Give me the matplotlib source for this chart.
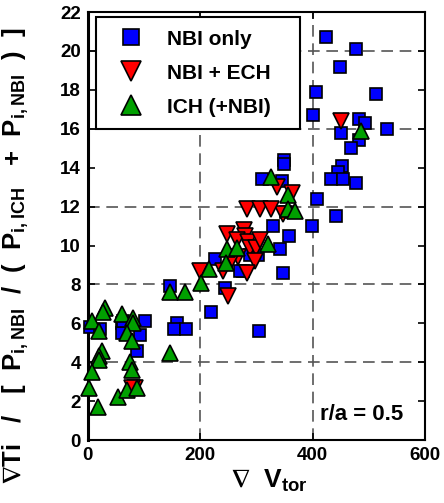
import matplotlib
matplotlib.use("Agg")
import matplotlib.pyplot as plt
from matplotlib.lines import Line2D

plt.rcParams['font.family'] = ['Liberation Sans', 'DejaVu Sans']
plt.rcParams['font.weight'] = 'bold'
plt.rcParams['mathtext.fontset'] = 'custom'
plt.rcParams['mathtext.rm'] = 'Liberation Sans:bold'
plt.rcParams['mathtext.bf'] = 'Liberation Sans:bold'
plt.rcParams['mathtext.it'] = 'Liberation Sans:bold'
plt.rcParams['mathtext.fallback'] = 'stixsans'

# NBI only
nbi_x = [424, 477, 449, 406, 513, 400, 482, 493, 450, 532, 482, 468, 452, 445, 433, 454, 478, 407, 441, 399, 358,
         349, 349, 310, 345, 329, 352, 342, 347,
         226, 244, 219, 303, 276, 271, 288,
         147, 158, 153, 174, 305,
         4, 21, 60, 60, 101, 93, 87, 63]
nbi_y = [20.7, 20.1, 19.2, 17.9, 17.8, 16.7, 16.5, 16.3, 15.8, 16.0, 15.4, 15.0, 14.1, 13.8, 13.4, 13.4, 13.2, 12.4, 11.5, 11.0, 10.5,
         14.4, 14.2, 13.4, 13.3, 11.0, 11.7, 9.8, 8.6,
         9.3, 7.8, 6.6, 9.5, 8.7, 8.7, 9.5,
         7.9, 6.0, 5.7, 5.7, 5.6,
         5.8, 5.7, 6.0, 5.5, 6.1, 5.4, 4.6, 6.1]

# NBI + ECH
ech_x = [450, 337, 363, 348, 284, 307, 326,
         247, 278, 280, 265, 285, 288, 300, 267, 297, 283, 240, 256, 199, 249, 306,
         84, 78]
ech_y = [16.4, 13.0, 12.7, 11.6, 11.9, 11.9, 11.9,
         10.6, 10.8, 10.5, 10.3, 10.2, 9.9, 9.9, 9.4, 9.2, 8.6, 8.7, 9.3, 8.7, 7.4, 10.3,
         2.7, 2.7]

# ICH (+NBI)
ich_x = [486, 326, 357, 357, 368,
         247, 265, 320, 216, 246, 201, 173, 147, 147,
         30, 27, 7, 20, 61, 80, 80, 70, 78, 25, 20, 20, 7, 75, 78, 2, 53, 70, 87, 18]
ich_y = [15.9, 13.5, 12.6, 11.9, 11.8,
         9.8, 9.9, 10.1, 8.8, 9.1, 8.1, 7.6, 7.6, 4.5,
         6.8, 6.6, 6.1, 5.6, 6.5, 6.3, 6.0, 5.5, 5.1, 4.6, 4.3, 4.1, 3.5, 4.0, 3.6, 2.7, 2.2, 2.6, 2.7, 1.7]

labels = ['NBI only', 'NBI + ECH', 'ICH (+NBI)   ']

blue = '#0000FF'
red = '#FF0000'
green = '#00A000'

fig = plt.figure(figsize=(4.44, 5.03), dpi=100)
ax = fig.add_axes([0.198, 0.125, 0.759, 0.851])

for v in [200, 400]:
    ax.axvline(v, color='#555555', lw=1.2, ls=(0, (7, 4)), zorder=1)
for v in [4, 8, 12, 16, 20]:
    ax.axhline(v, color='#555555', lw=1.2, ls=(0, (7, 4)), zorder=1)

ax.plot(nbi_x, nbi_y, 's', ms=8.5, mfc=blue, mec='black', mew=1.2, clip_on=False, zorder=3)
ax.plot(ech_x, ech_y, 'v', ms=12, mfc=red, mec='black', mew=1.2, clip_on=False, zorder=4)
ax.plot(ich_x, ich_y, '^', ms=12, mfc=green, mec='black', mew=1.2, clip_on=False, zorder=5)

ax.set_xlim(0, 600)
ax.set_ylim(0, 22)
ax.set_xticks([0, 200, 400, 600])
ax.set_yticks(range(0, 23, 2))
ax.tick_params(direction='in', top=True, right=True, length=5, width=1.2, labelsize=13.5, pad=5)
for lab in ax.get_xticklabels() + ax.get_yticklabels():
    lab.set_fontweight('bold')
for s in ax.spines.values():
    s.set_linewidth(1.5)
ax.spines['left'].set_linewidth(2.2)

ax.set_ylabel(r'$\nabla$Ti   /   [  P$_{\mathbf{i,NBI}}$  /  (  P$_{\mathbf{i,ICH}}$   +  P$_{\mathbf{i,NBI}}$  )  ]',
              fontsize=18.5, fontweight='bold')
ax.yaxis.set_label_coords(-0.17, 0.43)
ax.set_xlabel(r'$\nabla$  V$_{\mathbf{tor}}$', fontsize=19, fontweight='bold')
ax.xaxis.set_label_coords(0.54, -0.065)

ax.text(0.935, 0.035, 'r/a = 0.5', transform=ax.transAxes, ha='right', va='bottom',
        fontsize=16, fontweight='bold')

handles = [
    Line2D([], [], ls='none', marker='s', ms=11, mfc=blue, mec='black', mew=1.2),
    Line2D([], [], ls='none', marker='v', ms=15, mfc=red, mec='black', mew=1.2),
    Line2D([], [], ls='none', marker='^', ms=15, mfc=green, mec='black', mew=1.2),
]
leg = ax.legend(handles, labels, loc='upper left',
                bbox_to_anchor=(0.024, 0.988), borderaxespad=0, fancybox=False, framealpha=1,
                edgecolor='black', prop={'size': 15, 'weight': 'bold'},
                handletextpad=0.6, labelspacing=0.72, borderpad=0.6, handlelength=2.2)
leg.get_frame().set_linewidth(1.5)

fig.savefig('out.png', dpi=100)
